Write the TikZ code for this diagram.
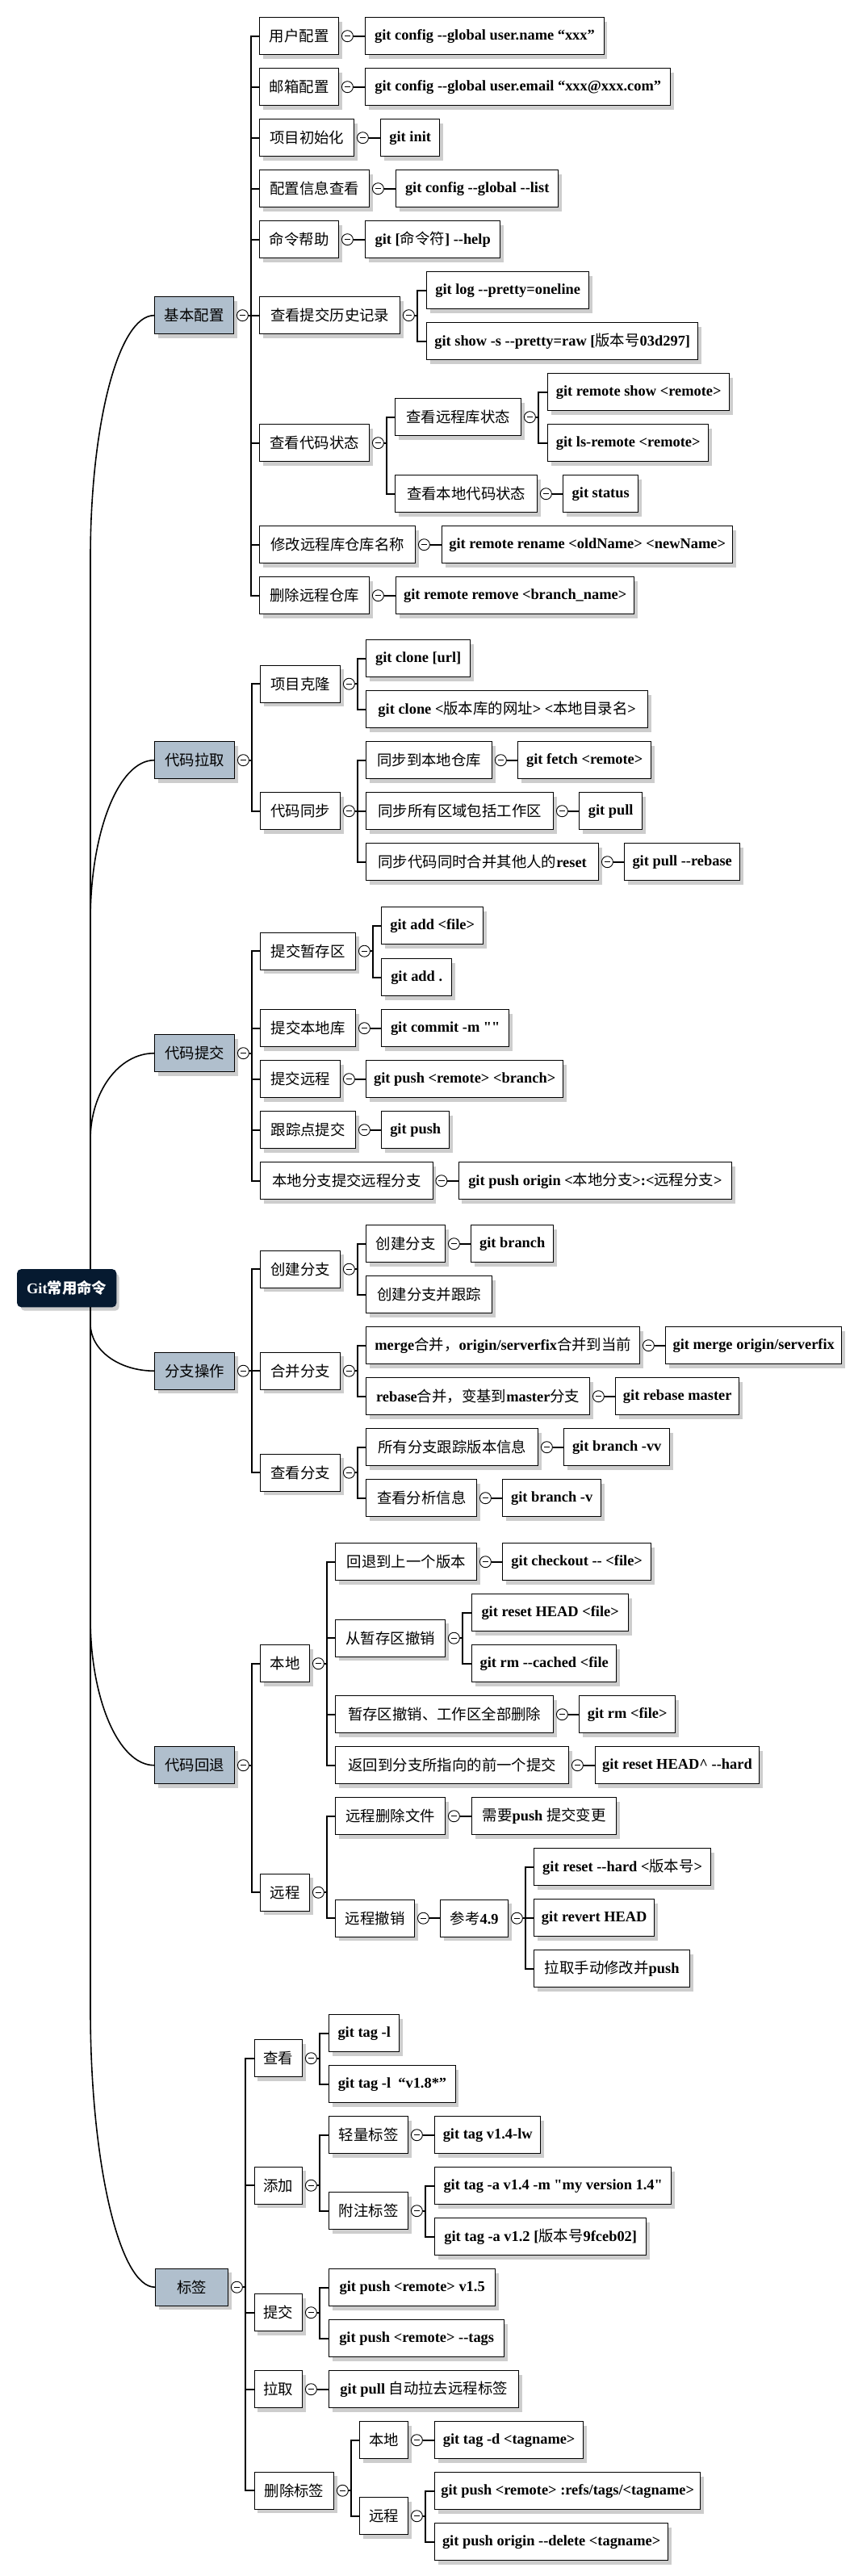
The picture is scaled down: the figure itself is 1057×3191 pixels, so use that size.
\documentclass[tikz,border=0pt]{standalone}
\usepackage{fontspec}
\setmainfont{Liberation Serif}
\newfontfamily\gitf{Liberation Serif}
\newfontfamily\zhfont{Noto Sans CJK SC}
\usetikzlibrary{shadows,calc}
\newcommand\ZH[1]{{\zhfont\mdseries #1}}
\newcommand\dd{-\kern0pt-}
\definecolor{lvone}{RGB}{176,191,205}
\definecolor{rootc}{RGB}{6,26,48}
\definecolor{shd}{RGB}{205,205,205}
\tikzset{
 box/.style={draw=black, line width=0.7pt, fill=white, minimum height=23pt, inner sep=2pt,
   font=\fontsize{9.2pt}{11pt}\gitf\bfseries,
   drop shadow={shadow xshift=2pt, shadow yshift=-2.5pt, fill=shd, draw=none, opacity=1}},
 lone/.style={box, fill=lvone},
 rootbox/.style={box, fill=rootc, draw=rootc, text=white, rounded corners=2.5pt},
 collapse/.style={circle, draw=black, line width=0.45pt, fill=white, minimum size=7pt, inner sep=0pt,
   path picture={\draw[line width=0.45pt] ([xshift=-1.8pt]path picture bounding box.center) -- ([xshift=1.8pt]path picture bounding box.center);}},
 conn/.style={line width=0.8pt, draw=black}
}
\newcommand\bx[6][box]{\node[#1, anchor=north west, minimum width={(#5-#3)*0.5pt}] (#2) at (#3,#4) {#6};}
\newcommand\one[2]{\node[collapse] (#1m) at ([xshift=5pt]#1.east) {}; \draw[conn] (#1m.east) -- (#2.west);}
\newcommand\many[2]{\node[collapse] (#1m) at ([xshift=5pt]#1.east) {};
  \foreach \ch in {#2} {\draw[conn] (#1m.east) -- ++(3,0) |- (\ch.west);}}
\begin{document}
\begin{tikzpicture}[x=0.5pt, y=-0.5pt]
\fill[white] (0,0) rectangle (1057,3191);
\useasboundingbox (0,0) rectangle (1057,3191);
% root
\bx[rootbox]{root}{21}{1572}{143}{Git\ZH{\bfseries 常用命令}}
% level 1
\bx[lone]{k1}{191}{367}{289}{\ZH{基本配置}}
\bx[lone]{k2}{191}{918}{290}{\ZH{代码拉取}}
\bx[lone]{k3}{191}{1281}{290}{\ZH{代码提交}}
\bx[lone]{k4}{191}{1674.5}{290}{\ZH{分支操作}}
\bx[lone]{k5}{191}{2163}{290}{\ZH{代码回退}}
\bx[lone]{k6}{192}{2809.5}{282}{\ZH{标签}}
% section 1
\bx{a1}{321}{21}{419}{\ZH{用户配置}}
\bx{a1c}{452}{21}{747.5}{git config \dd global user.name “xxx”}
\bx{a2}{321}{84}{419}{\ZH{邮箱配置}}
\bx{a2c}{452}{84}{830}{git config \dd global user.email “xxx@xxx.com”}
\bx{a3}{321}{147}{438}{\ZH{项目初始化}}
\bx{a3c}{471}{147}{544}{git init}
\bx{a4}{321}{210}{457}{\ZH{配置信息查看}}
\bx{a4c}{490}{210}{691}{git config \dd global \dd list}
\bx{a5}{321}{273}{419}{\ZH{命令帮助}}
\bx{a5c}{452}{273}{619}{git [\ZH{命令符}] \dd help}
\bx{a6}{321}{367}{495}{\ZH{查看提交历史记录}}
\bx{a6a}{528}{336}{729}{git log \dd pretty=oneline}
\bx{a6b}{528}{399}{864}{git show -s \dd pretty=raw [\ZH{版本号}03d297]}
\bx{a7}{321}{525}{457}{\ZH{查看代码状态}}
\bx{a7a}{489}{493}{645}{\ZH{查看远程库状态}}
\bx{a7a1}{678}{462}{903}{git remote show <remote>}
\bx{a7a2}{678}{525}{877}{git ls-remote <remote>}
\bx{a7b}{489}{588}{665}{\ZH{查看本地代码状态}}
\bx{a7b1}{697}{588}{790}{git status}
\bx{a8}{321}{651}{514}{\ZH{修改远程库仓库名称}}
\bx{a8c}{547}{651}{907}{git remote rename <oldName> <newName>}
\bx{a9}{321}{714}{457}{\ZH{删除远程仓库}}
\bx{a9c}{490}{714}{785}{git remote remove <branch\_name>}
% section 2
\bx{b1}{322}{823.5}{421}{\ZH{项目克隆}}
\bx{b1a}{453}{792}{582}{git clone [url]}
\bx{b1b}{453}{855}{802}{git clone <\ZH{版本库的网址}> <\ZH{本地目录名}>}
\bx{b2}{322}{981}{421}{\ZH{代码同步}}
\bx{b2a}{453}{918}{609}{\ZH{同步到本地仓库}}
\bx{b2a1}{641}{918}{806}{git fetch <remote>}
\bx{b2b}{453}{981}{685}{\ZH{同步所有区域包括工作区}}
\bx{b2b1}{717}{981}{795}{git pull}
\bx{b2c}{453}{1044}{741}{\ZH{同步代码同时合并其他人的}reset}
\bx{b2c1}{773}{1044}{916}{git pull \dd rebase}
% section 3
\bx{c1}{322}{1154.5}{440}{\ZH{提交暂存区}}
\bx{c1a}{472}{1123}{598}{git add <file>}
\bx{c1b}{472}{1187}{559}{git add .}
\bx{c2}{322}{1250}{440}{\ZH{提交本地库}}
\bx{c2a}{472}{1250}{630}{git commit -m ""}
\bx{c3}{322}{1313}{421}{\ZH{提交远程}}
\bx{c3a}{453}{1313}{697}{git push <remote> <branch>}
\bx{c4}{322}{1376}{440}{\ZH{跟踪点提交}}
\bx{c4a}{472}{1376}{556}{git push}
\bx{c5}{322}{1439}{535.5}{\ZH{本地分支提交远程分支}}
\bx{c5a}{567.5}{1439}{906}{git push origin <\ZH{本地分支}>:<\ZH{远程分支}>}
% section 4
\bx{d1}{322}{1548.5}{421}{\ZH{创建分支}}
\bx{d1a}{453}{1517}{551}{\ZH{创建分支}}
\bx{d1a1}{583}{1517}{685}{git branch}
\bx{d1b}{453}{1580}{609}{\ZH{创建分支并跟踪}}
\bx{d2}{322}{1674.5}{421}{\ZH{合并分支}}
\bx{d2a}{453}{1643}{792}{merge\ZH{合并，}origin/serverfix\ZH{合并到当前}}
\bx{d2a1}{824}{1643}{1042}{git merge origin/serverfix}
\bx{d2b}{453}{1706}{730}{rebase\ZH{合并，变基到}master\ZH{分支}}
\bx{d2b1}{762}{1706}{915}{git rebase master}
\bx{d3}{322}{1800.5}{421}{\ZH{查看分支}}
\bx{d3a}{453}{1769}{666}{\ZH{所有分支跟踪版本信息}}
\bx{d3a1}{698}{1769}{829}{git branch -vv}
\bx{d3b}{453}{1832}{590}{\ZH{查看分析信息}}
\bx{d3b1}{622}{1832}{744}{git branch -v}
% section 5
\bx{e1}{322}{2037}{383}{\ZH{本地}}
\bx{e1a}{415}{1911}{590}{\ZH{回退到上一个版本}}
\bx{e1a1}{622}{1911}{806}{git checkout \dd{} <file>}
\bx{e1b}{415}{2005.5}{551}{\ZH{从暂存区撤销}}
\bx{e1b1}{584}{1974}{778}{git reset HEAD <file>}
\bx{e1b2}{584}{2037}{763}{git rm \dd cached <file}
\bx{e1c}{415}{2100}{685}{\ZH{暂存区撤销、工作区全部删除}}
\bx{e1c1}{717}{2100}{836}{git rm <file>}
\bx{e1d}{415}{2163}{704}{\ZH{返回到分支所指向的前一个提交}}
\bx{e1d1}{736.5}{2163}{940}{git reset HEAD\textasciicircum{} \dd hard}
\bx{e2}{322}{2320.5}{383}{\ZH{远程}}
\bx{e2a}{415}{2226}{551}{\ZH{远程删除文件}}
\bx{e2a1}{584}{2226}{763}{\ZH{需要}push \ZH{提交变更}}
\bx{e2b}{415}{2352.5}{513}{\ZH{远程撤销}}
\bx{e2b1}{545}{2352.5}{629}{\ZH{参考}4.9}
\bx{e2b1a}{661}{2289}{880}{git reset \dd hard <\ZH{版本号}>}
\bx{e2b1b}{661}{2352}{810}{git revert HEAD}
\bx{e2b1c}{661}{2415}{854}{\ZH{拉取手动修改并}push}
% section 6
\bx{f1}{314.5}{2526}{374}{\ZH{查看}}
\bx{f1a}{407}{2495}{494}{git tag -l}
\bx{f1b}{407}{2558}{563.5}{git tag -l\enspace“v1.8*”}
\bx{f2}{314.5}{2683.5}{374}{\ZH{添加}}
\bx{f2a}{407}{2621}{505}{\ZH{轻量标签}}
\bx{f2a1}{538}{2621}{669}{git tag v1.4-lw}
\bx{f2b}{407}{2715}{505}{\ZH{附注标签}}
\bx{f2b1}{538}{2684}{831}{git tag -a v1.4 -m "my version 1.4"}
\bx{f2b2}{538}{2747}{800}{git tag -a v1.2 [\ZH{版本号}9fceb02]}
\bx{f3}{314.5}{2841}{374}{\ZH{提交}}
\bx{f3a}{407}{2810}{613}{git push <remote> v1.5}
\bx{f3b}{407}{2873}{624}{git push <remote> \dd tags}
\bx{f4}{314.5}{2936}{374}{\ZH{拉取}}
\bx{f4a}{407}{2936}{642}{git pull \ZH{自动拉去远程标签}}
\bx{f5}{314.5}{3061.5}{413}{\ZH{删除标签}}
\bx{f5a}{445}{2999}{505}{\ZH{本地}}
\bx{f5a1}{538}{2999}{722}{git tag -d <tagname>}
\bx{f5b}{445}{3093}{505}{\ZH{远程}}
\bx{f5b1}{538}{3062}{867}{git push <remote> :refs/tags/<tagname>}
\bx{f5b2}{538}{3125}{827}{git push origin \dd delete <tagname>}
% root connectors
\coordinate (rl) at (112,1595);
\draw[conn] (rl |- root.north) -- ($(rl |- k1.west)+(0,300)$) .. controls +(0,-166) and +(-44,0) .. (k1.west);
\draw[conn] (rl |- root.north) -- ($(rl |- k2.west)+(0,198)$) .. controls +(0,-109) and +(-44,0) .. (k2.west);
\draw[conn] (rl |- root.north) -- ($(rl |- k3.west)+(0,107)$) .. controls +(0,-59) and +(-44,0) .. (k3.west);
\draw[conn] (rl |- root.south) -- ($(rl |- k4.west)+(0,-58)$) .. controls +(0,32) and +(-44,0) .. (k4.west);
\draw[conn] (rl |- root.south) -- ($(rl |- k5.west)+(0,-182)$) .. controls +(0,100) and +(-44,0) .. (k5.west);
\draw[conn] (rl |- root.south) -- ($(rl |- k6.west)+(0,-343)$) .. controls +(0,189) and +(-44,0) .. (k6.west);
% tree connectors
\many{k1}{a1,a2,a3,a4,a5,a6,a7,a8,a9}
\one{a1}{a1c}
\one{a2}{a2c}
\one{a3}{a3c}
\one{a4}{a4c}
\one{a5}{a5c}
\many{a6}{a6a,a6b}
\many{a7}{a7a,a7b}
\many{a7a}{a7a1,a7a2}
\one{a7b}{a7b1}
\one{a8}{a8c}
\one{a9}{a9c}
\many{k2}{b1,b2}
\many{b1}{b1a,b1b}
\many{b2}{b2a,b2b,b2c}
\one{b2a}{b2a1}
\one{b2b}{b2b1}
\one{b2c}{b2c1}
\many{k3}{c1,c2,c3,c4,c5}
\many{c1}{c1a,c1b}
\one{c2}{c2a}
\one{c3}{c3a}
\one{c4}{c4a}
\one{c5}{c5a}
\many{k4}{d1,d2,d3}
\many{d1}{d1a,d1b}
\one{d1a}{d1a1}
\many{d2}{d2a,d2b}
\one{d2a}{d2a1}
\one{d2b}{d2b1}
\many{d3}{d3a,d3b}
\one{d3a}{d3a1}
\one{d3b}{d3b1}
\many{k5}{e1,e2}
\many{e1}{e1a,e1b,e1c,e1d}
\one{e1a}{e1a1}
\many{e1b}{e1b1,e1b2}
\one{e1c}{e1c1}
\one{e1d}{e1d1}
\many{e2}{e2a,e2b}
\one{e2a}{e2a1}
\one{e2b}{e2b1}
\many{e2b1}{e2b1a,e2b1b,e2b1c}
\many{k6}{f1,f2,f3,f4,f5}
\many{f1}{f1a,f1b}
\many{f2}{f2a,f2b}
\one{f2a}{f2a1}
\many{f2b}{f2b1,f2b2}
\many{f3}{f3a,f3b}
\one{f4}{f4a}
\many{f5}{f5a,f5b}
\one{f5a}{f5a1}
\many{f5b}{f5b1,f5b2}
\end{tikzpicture}
\end{document}
